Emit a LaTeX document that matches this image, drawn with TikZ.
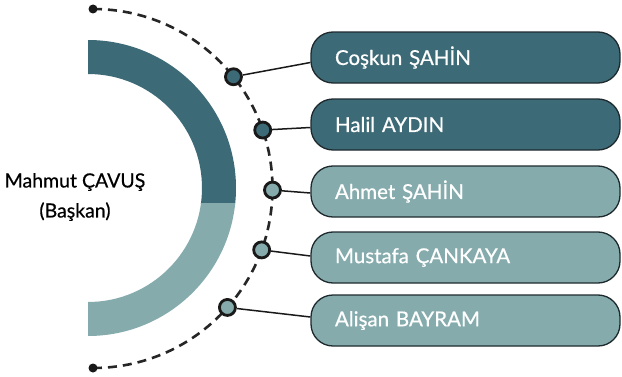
\documentclass[tikz,border=0pt]{standalone}
\usepackage{fontspec}
\setmainfont{Lato}
\newfontface\medfont{Lato}[FakeBold=0.6]
\usetikzlibrary{calc}
\definecolor{darkteal}{HTML}{3D6A77}
\definecolor{lightteal}{HTML}{85ABAD}
\definecolor{edgecol}{HTML}{1E2A2E}
\begin{document}
\begin{tikzpicture}[x=1pt,y=1pt,
  namebox/.style={draw=edgecol,line width=1.3pt,rounded corners=22pt,minimum height=51pt,
    text width=261pt,inner xsep=24pt,align=left,text=white,font=\medfont\fontsize{20.5}{22}\selectfont},
  darkbox/.style={namebox,fill=darkteal},
  lightbox/.style={namebox,fill=lightteal},
  knot/.style={circle,draw=black!90,line width=2.8pt,inner sep=0pt,minimum size=16pt},
  link/.style={draw=black!90,line width=1.5pt},
  enddot/.style={circle,fill=black!90,inner sep=0pt,minimum size=9pt}]
\useasboundingbox (0,0) rectangle (622,376);
% ring
\begin{scope}
\clip (88,173) rectangle (300,376);
\fill[darkteal,even odd rule] (88,188) circle (148) (88,188) circle (114);
\end{scope}
\begin{scope}
\clip (88,0) rectangle (300,173);
\fill[lightteal,even odd rule] (88,188) circle (148) (88,188) circle (114);
\end{scope}
% centre label
\node[align=center,font=\medfont\fontsize{19.5}{30}\selectfont] (head) at (75,179) {Mahmut ÇAVUŞ\\(Başkan)};
% dashed arc
\coordinate (o) at (93,187.5);
\draw[black!85,line width=2.6pt,dash pattern=on 9pt off 6pt] (93,367) arc (90:-90:179.5);
\node[enddot] (top) at (93,367) {};
\node[enddot] (bot) at (93,8) {};
% boxes
\node[darkbox] (b1) at (465.5,318.5) {Coşkun ŞAHİN};
\node[darkbox] (b2) at (465.5,251.5) {Halil AYDIN};
\node[lightbox] (b3) at (465.5,184.5) {Ahmet ŞAHİN};
\node[lightbox] (b4) at (465.5,118.5) {Mustafa ÇANKAYA};
\node[lightbox] (b5) at (465.5,55.5) {Alişan BAYRAM};
% knots
\node[knot,fill=darkteal] (k1) at ($(o)+(38.5:179.5)$) {};
\node[knot,fill=darkteal] (k2) at ($(o)+(19:179.5)$) {};
\node[knot,fill=lightteal] (k3) at ($(o)+(-0.5:179.5)$) {};
\node[knot,fill=lightteal] (k4) at ($(o)+(-20:179.5)$) {};
\node[knot,fill=lightteal] (k5) at ($(o)+(-41.5:179.5)$) {};
% links
\draw[link] (k1) -- ([yshift=-5pt]b1.west);
\draw[link] (k2) -- ([yshift=-3pt]b2.west);
\draw[link] (k3) -- ([yshift=-1.5pt]b3.west);
\draw[link] (k4) -- ([yshift=1.5pt]b4.west);
\draw[link] (k5) -- ([yshift=3.5pt]b5.west);
\end{tikzpicture}
\end{document}
